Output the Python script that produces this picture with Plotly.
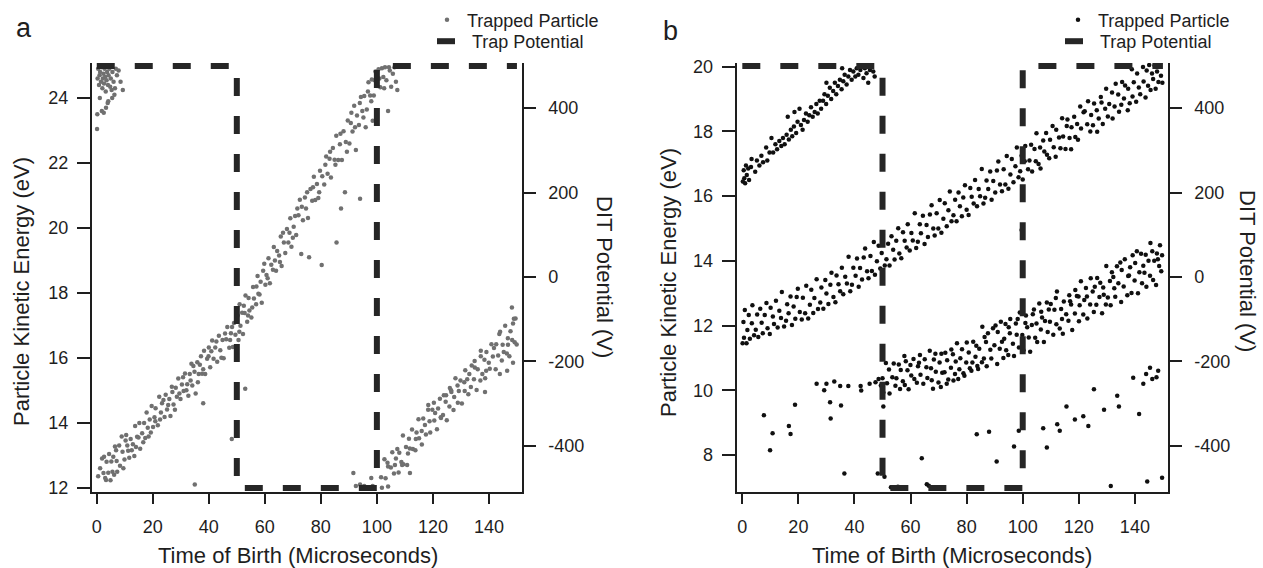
import plotly.graph_objects as go

# ---------------- data ----------------
# Panel a: trapped particles (time of birth [us], kinetic energy [eV])
A_TOP = [(0.3,24.6),(0.5,24.9),(0.8,24.4),(1.0,24.7),(1.2,24.8),(1.5,24.5),(1.7,24.95),(2.0,24.3),
         (2.2,24.6),(2.4,24.75),(2.6,24.45),(2.8,24.9),(3.0,24.65),(3.2,24.2),(3.5,24.55),(3.7,24.8),
         (4.0,24.4),(4.2,24.7),(4.5,24.9),(4.8,24.35),(5.0,24.6),(5.3,24.25),(5.6,24.8),(6.0,24.5),
         (6.3,24.1),(6.8,24.9),(7.2,24.7),(7.8,24.85),(8.5,24.5),(9.3,24.25),(1.1,24.0),(1.8,23.6),
         (2.5,23.55),(3.3,23.7),(4.1,23.9),(0.1,23.05),(0.2,23.5),(5.5,24.0),(6.5,24.3),(3.9,23.85)]
A_BAND1 = [(0.5,12.35),(1.9,12.9),(2.4,12.45),(2.6,12.95),(3.3,12.24),(3.5,12.8),(4.1,12.46),(4.4,13.04),
           (4.9,12.23),(5.2,12.81),(5.6,12.49),(6.2,12.4),(6.5,13.27),(7.1,12.82),(7.3,12.49),(8.0,13.3),
           (8.3,12.68),(8.9,13.58),(9.2,13.11),(9.9,12.87),(10.3,13.45),(10.5,13.62),(11.2,13.14),(11.6,12.92),
           (12.1,13.5),(12.9,13.34),(13.4,12.98),(13.7,13.9),(14.4,13.57),(15.2,13.99),(15.5,13.2),(16.2,13.68),
           (16.9,13.99),(17.3,13.53),(17.8,14.32),(18.5,13.58),(18.9,14.1),(19.6,14.52),(20.1,13.87),(20.6,14.17),
           (21.0,14.45),(21.8,13.92),(22.3,14.8),(22.9,14.32),(23.3,14.6),(24.2,14.18),(24.6,14.86),(25.1,14.41),
           (25.9,14.73),(26.3,14.21),(26.8,15.11),(27.4,14.56),(28.2,15.08),(28.6,14.8),(29.1,15.36),(29.9,14.73),
           (30.4,15.18),(31.0,14.98),(31.5,15.52),(32.3,15.19),(32.7,14.83),(33.2,15.5),(33.8,15.82),(34.1,15.15),
           (34.9,15.57),(35.3,14.9),(35.9,15.86),(36.4,15.5),(36.8,15.79),(37.6,15.51),(38.3,16.22),(38.7,15.5),
           (39.4,15.97),(40.0,16.32),(40.5,15.71),(41.2,16.53),(41.7,15.97),(42.3,16.32),(43.0,15.88),(43.6,16.68),
           (44.1,16.23),(44.9,16.55),(45.3,15.99),(46.2,16.57),(46.6,16.95),(47.3,16.31),(47.9,16.76),(48.6,16.33),
           (49.0,17.07),(49.5,16.71),
           (1.2,12.6),(3.0,12.3),(5.9,12.95),(6.9,13.15),(9.5,12.6),(10.9,13.3),(12.5,13.15),(14.0,13.25),
           (14.9,13.55),(16.6,13.4),(18.2,13.85),(19.3,13.7),(20.9,14.05),(22.6,14.1),(23.8,14.7),(25.5,14.55),
           (27.0,14.95),(27.9,14.4),(29.5,14.9),(30.8,15.4),(32.0,15.0),(33.5,15.3),(34.5,15.75),(36.1,15.25),
           (37.2,16.05),(38.0,15.65),(39.9,16.05),(40.9,16.2),(42.7,16.5),(44.5,16.0),(45.8,16.75),(47.6,16.55),
           (48.3,16.95)]
A_BAND2 = [(50.3,17.3),(50.6,16.55),(51.0,17.65),(51.3,16.99),(51.9,17.39),(52.2,16.73),(52.8,17.38),(53.1,17.92),
           (53.7,17.11),(54.2,17.84),(54.5,17.46),(55.2,17.24),(55.8,18.18),(56.1,17.83),(56.9,17.65),(57.4,18.52),
           (57.7,17.97),(58.5,18.34),(58.9,17.7),(59.4,18.68),(60.2,18.25),(60.6,18.55),(61.3,19.07),(61.8,18.3),
           (62.3,18.87),(62.9,18.71),(63.2,19.41),(64.0,18.68),(64.4,19.29),(65.1,19.15),(65.7,19.74),(66.0,18.83),
           (66.8,19.55),(67.3,19.23),(67.9,19.97),(68.4,19.55),(69.1,20.3),(69.5,19.42),(70.3,20.04),(70.8,20.37),
           (71.2,19.78),(72.0,20.39),(72.5,20.87),(73.0,19.2),(73.6,20.24),(74.3,20.94),(74.7,20.6),(75.4,20.31),
           (75.8,19.1),(76.3,21.2),(76.9,20.84),(77.5,21.58),(78.0,20.86),(78.6,21.35),(79.1,20.92),(79.7,21.76),
           (80.3,18.86),(80.5,21.59),(81.2,21.34),(81.9,22.2),(82.4,21.67),(83.1,22.13),(83.6,21.55),(84.3,22.46),
           (84.9,22.1),(85.6,19.55),(85.5,22.84),(86.2,22.09),(86.8,22.58),(87.2,20.6),(87.5,22.09),(88.1,22.98),
           (88.6,21.1),(88.9,22.65),(89.6,23.31),(90.2,22.6),(90.7,23.23),(91.3,22.97),(91.9,23.76),(92.5,22.4),
           (92.9,23.46),(93.6,23.17),(94.0,20.9),(94.3,24.03),(94.8,23.6),(95.5,24.06),(96.0,23.1),(96.4,23.65),
           (97.0,24.49),(97.6,24.08),(98.2,24.57),(98.5,23.3),(98.9,24.08),(99.5,24.82),(100.1,24.37),(100.6,24.89),
           (101.2,24.33),(101.8,24.92),(102.3,24.65),(102.9,24.95),(103.4,24.55),(104.0,23.6),(104.6,24.85),
           (105.1,24.35),(105.7,24.75),(106.3,24.95),(106.8,24.5),(107.3,24.25),
           (50.9,16.8),(52.5,17.6),(54.0,17.3),(55.5,17.55),(57.0,18.2),(58.1,17.95),(59.8,18.9),(61.0,18.45),
           (63.6,19.0),(65.4,18.95),(66.5,19.85),(68.8,19.85),(70.0,19.7),(71.6,20.6),(73.2,20.65),(75.1,21.1),
           (77.2,21.25),(79.4,21.1),(81.6,21.95),(83.3,22.35),(85.2,21.95),(87.0,22.9),(89.3,22.35),(90.9,23.55),
           (92.2,23.1),(93.9,23.85),(95.2,23.4),(96.8,24.2),(98.0,23.9),(99.2,24.55),(100.9,24.6),(102.6,24.3),
           (104.3,24.95)]
A_BAND3 = [(101.5,12.32),(101.8,12.0),(102.7,12.88),(103.1,12.29),(103.8,12.77),(104.0,12.04),(105.0,12.62),
           (105.5,13.09),(106.1,12.44),(106.45,12.7),(107.3,13.19),(107.75,12.47),(108.0,13.08),(108.75,12.79),
           (109.3,13.61),(109.45,12.72),(110.4,13.25),(110.8,12.7),(111.45,13.51),(111.75,13.21),(112.55,13.79),
           (112.85,13.19),(113.75,13.15),(114.15,13.7),(114.85,14.11),(115.05,13.52),(116.05,13.33),(116.55,14.13),
           (117.15,13.93),(117.5,13.64),(118.35,14.55),(118.8,14.05),(119.05,13.7),(119.8,14.4),(120.35,14.62),
           (120.5,14.07),(121.45,13.8),(121.85,14.44),(122.5,14.74),(122.8,14.17),(123.6,14.24),(123.9,14.85),
           (124.55,14.65),(124.95,14.08),(125.9,14.5),(126.05,15.07),(126.6,14.95),(127.35,14.39),(127.6,14.79),
           (128.05,15.37),(128.9,14.62),(129.25,14.98),(129.85,15.3),(130.35,14.59),(131.35,14.98),(131.55,15.62),
           (132.25,15.34),(132.65,14.88),(133.55,15.1),(133.85,15.76),(134.65,15.34),(134.95,15.7),(135.6,15.01),
           (136.0,15.65),(136.95,15.3),(137.1,16.22),(137.65,15.5),(138.4,15.94),(138.65,15.37),(139.1,16.18),
           (139.95,15.85),(140.3,15.66),(140.9,16.42),(141.4,16.04),(142.4,15.65),(142.6,16.42),(143.3,16.07),
           (143.7,16.73),(144.6,15.92),(144.9,16.4),(145.3,16.18),(145.8,16.99),(146.4,16.13),(146.75,16.6),
           (147.3,16.05),(147.7,16.82),(148.3,16.55),(148.6,17.06),(149.2,16.48),(149.5,17.21),(149.9,16.41),
           (104.0,12.65),(106.8,12.9),(109.0,12.7),(111.1,13.05),(113.9,13.5),(116.0,13.75),(118.3,14.4),
           (120.8,14.3),(122.9,14.15),(124.7,14.85),(126.5,15.0),(128.8,15.15),(131.2,15.25),(133.0,15.5),
           (134.9,15.9),(137.1,16.05),(139.0,15.6),(141.8,16.3),(144.0,16.8),(146.8,16.4),(148.9,17.2),
           (146.5,15.6),(148.6,15.85),(138.6,14.95),(143.9,15.5),(111.8,12.45),(148.2,17.55)]
A_MISC = [(35.0,12.1),(48.2,13.5),(38.0,14.6),(53.0,15.05),(91.6,12.45),(92.5,12.05),(94.0,12.1),
          (95.5,12.05),(98.0,12.3),(98.5,12.05)]

# Panel b
B_BAND1 = [(0.2,16.45),(0.5,16.8),(0.7,16.55),(1.0,16.4),(1.3,16.95),(1.6,16.65),(2.1,16.85),(2.4,16.5),
           (3.1,16.9),(3.3,17.15),(4.6,16.75),(5.2,17.1),(6.1,16.95),(6.8,17.25),(7.4,17.05),(8.5,17.5),
           (8.9,17.1),(9.7,17.35),(10.4,17.8),(11.0,17.35),(11.8,17.6),(12.4,17.45),(13.2,17.7),(13.9,17.55),
           (14.5,17.8),(15.1,17.6),(15.8,17.9),(16.2,18.45),(16.6,17.75),(17.3,18.05),(17.8,17.85),(18.4,18.15),
           (18.6,18.6),(19.2,17.95),(19.7,18.3),(20.4,18.7),(20.9,18.2),(21.5,18.05),(22.0,18.35),(22.7,18.55),
           (23.3,18.3),(23.9,18.5),(24.5,18.75),(25.1,18.45),(25.8,18.6),(26.4,18.85),(26.9,18.55),(27.6,18.95),
           (28.1,18.7),(28.8,18.95),(29.3,19.15),(29.9,18.85),(30.5,19.1),(31.2,19.35),(31.7,19.0),(32.4,19.25),
           (33.0,19.5),(33.5,19.15),(34.1,19.4),(34.8,19.6),(35.4,19.3),(36.0,19.55),(36.5,19.75),(37.2,19.45),
           (37.8,19.7),(38.4,19.9),(39.0,19.6),(39.6,19.85),(40.3,19.7),(40.8,19.95),(41.4,19.75),(42.1,19.9),
           (42.6,20.0),(43.2,19.65),(43.7,19.95),(44.3,19.8),(44.9,19.5),(45.5,19.9),(46.1,20.0),(46.7,19.85),
           (47.2,19.7),(30.0,19.5),(35.6,19.95)]
B_BAND2 = [(0.1,11.45),(0.4,12.11),(0.6,11.62),(0.9,12.48),(1.5,11.45),(1.8,11.86),(2.3,12.33),(2.7,11.59),
           (3.4,12.07),(3.6,12.63),(4.2,11.7),(4.8,11.87),(5.3,12.34),(5.7,11.65),(6.4,12.52),(6.9,12.09),
           (7.3,11.76),(8.0,12.33),(8.6,12.7),(9.0,11.92),(9.8,11.74),(10.1,12.55),(10.9,12.28),(11.3,12.05),
           (12.0,12.77),(12.6,11.94),(13.2,12.46),(13.8,12.23),(14.1,13.04),(14.9,11.97),(15.6,12.15),(16.0,12.66),
           (16.5,12.38),(17.2,12.9),(17.7,12.02),(18.3,12.59),(18.9,12.21),(19.4,12.88),(19.8,13.14),(20.5,12.42),
           (21.2,12.19),(21.6,12.86),(22.4,12.38),(22.8,13.23),(23.5,12.22),(24.1,12.64),(24.6,13.11),(25.3,12.39),
           (25.7,12.85),(26.5,13.43),(27.0,12.51),(27.8,12.71),(28.2,13.18),(28.9,12.52),(29.6,13.41),(30.0,12.99),
           (30.7,12.67),(31.4,13.26),(31.8,13.63),(32.5,12.88),(33.2,12.72),(33.6,13.55),(34.3,13.28),(34.9,13.06),
           (35.5,13.79),(36.0,12.97),(36.7,13.51),(37.3,13.3),(37.9,14.13),(38.5,13.06),(39.1,13.26),(39.6,13.79),
           (40.4,13.54),(40.9,14.07),(41.5,13.2),(42.0,13.78),(42.7,13.42),(43.3,14.1),(43.8,14.38),(44.5,13.68),
           (45.0,13.46),(45.7,14.15),(46.2,13.69),(46.9,14.58),(47.3,13.57),(48.0,13.99),(48.6,14.47),(49.2,13.76),
           (49.7,14.24),(50.1,14.81),(50.8,13.86),(51.4,14.05),(52.0,14.53),(52.5,13.86),(53.2,14.76),(53.8,14.34),
           (54.3,14.04),(54.9,14.62),(55.6,15.01),(56.0,14.23),(56.7,14.08),(57.3,14.88),(57.9,14.62),(58.6,14.41),
           (59.0,15.13),(59.7,14.32),(60.3,14.86),(60.8,14.63),(61.5,15.47),(62.0,14.4),(62.6,14.59),(63.3,15.13),
           (63.7,14.85),(64.4,15.39),(65.0,14.52),(65.7,15.11),(66.2,14.74),(66.9,15.43),(67.5,15.72),(68.1,15.0),
           (68.6,14.78),(69.3,15.47),(69.9,15.0),(70.4,15.88),(71.0,14.87),(71.7,15.3),(72.2,15.78),(72.9,15.07),
           (73.5,15.56),(74.0,16.14),(74.6,15.22),(75.3,15.41),(75.9,15.89),(76.4,15.22),(77.1,16.11),(77.6,15.69),
           (78.3,15.38),(78.8,15.96),(79.4,16.34),(80.0,15.58),(80.7,15.42),(81.3,16.25),(81.8,15.98),(82.5,15.77),
           (83.0,16.5),(83.7,15.69),(84.3,16.22),(84.8,16.0),(85.4,16.84),(86.0,15.77),(86.6,15.95),(87.1,16.48),
           (87.7,16.22),(88.4,16.76),(88.9,15.89),(89.5,16.47),(90.2,16.11),(90.8,16.79),(91.3,17.07),(91.9,16.36),
           (92.6,16.15),(93.2,16.83),(93.8,16.36),(94.3,17.24),(94.9,16.23),(95.6,16.67),(96.1,17.15),(96.7,16.43),
           (97.4,16.92),(97.9,17.5),(98.5,16.58),(99.1,16.77),(99.6,17.25),
           (100.0,16.51),(100.7,17.08),(100.9,17.55),(101.9,16.83),(102.4,17.1),(103.0,17.59),(103.35,16.76),
           (104.2,17.46),(104.65,17.08),(104.9,17.94),(105.65,16.99),(106.2,17.5),(106.35,16.85),(107.3,17.72),
           (107.7,17.38),(108.35,17.95),(108.65,17.28),(109.45,17.17),(109.75,17.74),(110.65,18.17),(111.05,17.51),
           (111.75,17.22),(111.95,18.05),(112.95,17.81),(113.45,17.48),(114.05,18.41),(114.4,17.84),(115.25,17.46),
           (115.7,18.17),(115.95,18.37),(116.7,17.8),(117.25,17.45),(117.4,18.13),(118.35,18.45),(118.75,17.83),
           (119.4,18.23),(119.7,17.74),(120.5,18.77),(120.8,18.09),(121.7,18.59),(122.1,18.62),(123.0,18.22),
           (123.3,18.93),(124.1,18.0),(124.4,18.51),(125.05,18.19),(125.45,18.86),(126.4,18.65),(126.55,17.99),
           (127.1,18.4),(127.85,19.06),(128.1,18.89),(128.55,18.23),(129.4,18.7),(129.75,19.32),(130.35,18.46),
           (130.85,18.85),(131.85,19.2),(132.05,18.4),(132.75,18.77),(133.15,19.47),(134.05,19.14),(134.35,18.61),
           (135.15,18.82),(135.45,19.53),(136.1,19.02),(136.5,19.42),(137.45,18.65),(137.6,19.32),(138.15,18.87),
           (138.9,19.92),(139.15,19.08),(139.6,19.52),(140.45,18.92),(140.8,19.79),(141.4,19.36),(141.9,19.15),
           (142.9,19.99),(143.1,19.54),(143.8,19.05),(144.2,19.88),(144.7,19.41),(145.1,20.05),(145.6,19.28),
           (146.1,19.79),(146.5,19.62),(147.0,20.04),(147.4,19.32),(147.9,19.85),(148.4,19.53),(148.8,20.05),
           (149.3,19.72),(149.8,19.5)]
B_BAND3 = [(47.5,10.25),(48.6,10.35),(49.4,10.15),
           (50.0,10.37),(50.3,9.93),(51.2,10.84),(51.6,10.22),(52.3,10.64),(52.5,9.9),(53.5,10.4),(54.0,10.83),
           (54.6,10.14),(54.95,10.37),(55.8,10.8),(56.25,10.04),(56.5,10.63),(57.25,10.28),(57.8,11.06),(57.95,10.16),
           (58.9,10.62),(59.3,10.03),(59.95,10.78),(60.25,10.46),(61.05,10.97),(61.35,10.35),(62.25,10.23),
           (62.65,10.74),(63.35,11.09),(63.55,10.48),(64.55,10.2),(65.05,10.96),(65.65,10.71),(66.0,10.38),
           (66.85,11.22),(67.3,10.68),(67.55,10.31),(68.3,10.95),(68.85,11.13),(69.0,10.57),(69.95,10.24),
           (70.35,10.86),(71.0,11.13),(71.3,10.54),(72.1,10.56),(72.4,11.16),(73.05,10.93),(73.45,10.33),
           (74.4,10.7),(74.55,11.26),(75.1,11.11),(75.85,10.5),(76.1,10.89),(76.55,11.45),(77.4,10.65),
           (77.75,10.99),(78.35,11.27),(78.85,10.53),(79.85,10.86),(80.05,11.48),(80.75,11.17),(81.15,10.68),
           (82.05,10.86),(82.35,11.5),(83.15,11.04),(83.45,11.38),(84.1,10.66),(84.5,11.28),(85.45,10.87),
           (85.6,11.96),(86.15,10.98),(86.9,11.49),(87.15,10.74),(87.6,11.76),(88.45,11.25),(88.8,10.98),
           (89.4,11.92),(89.9,11.39),(90.9,10.81),(91.1,11.8),(91.8,11.28),(92.2,12.12),(93.1,11.0),(93.4,11.59),
           (93.85,12.05),(94.1,11.24),(94.85,11.09),(95.4,11.76),(95.55,12.2),(96.5,11.44),(96.9,11.06),
           (97.55,12.06),(97.85,11.72),(98.65,11.32),(98.95,12.4),(99.85,11.71),(100.25,11.24),(100.95,12.08),
           (101.15,12.31),(102.15,11.63),(102.65,11.19),(103.25,12.02),(103.6,12.35),(104.45,11.62),(104.9,12.06),
           (105.15,11.49),(105.9,12.68),(106.45,11.88),(106.6,12.43),(107.55,11.49),(107.95,12.14),(108.6,12.71),
           (108.9,11.8),(109.7,12.12),(110.0,12.67),(110.9,11.72),(111.3,12.49),(112.0,12.04),(112.2,13.05),
           (113.2,11.91),(113.7,12.51),(114.3,11.75),(114.65,12.74),(115.5,12.35),(116.3,12.15),(116.6,12.94),
           (117.25,12.65),(117.65,11.86),(118.6,12.37),(118.75,13.1),(119.3,12.91),(120.05,12.13),(120.3,12.63),
           (120.75,13.37),(121.6,12.34),(121.95,12.79),(122.55,13.16),(123.05,12.22),(124.05,12.65),(124.25,13.46),
           (124.95,13.05),(125.35,12.42),(126.25,12.64),(126.55,13.47),(127.35,12.88),(127.65,13.32),(128.3,12.38),
           (128.7,13.18),(129.65,12.65),(129.8,13.84),(130.35,12.87),(131.1,13.38),(131.35,12.63),(131.8,13.65),
           (132.65,13.15),(133.0,12.89),(133.6,13.83),(134.1,13.31),(135.1,12.73),(135.3,13.72),(136.0,13.21),
           (136.4,14.05),(137.3,12.94),(137.6,13.53),(137.9,13.55),(138.8,13.01),(139.2,14.17),(139.9,13.39),
           (140.1,13.93),(141.1,13.0),(141.6,13.65),(142.2,14.22),(142.55,13.31),(143.4,13.63),(143.85,14.19),
           (144.1,13.2),(144.85,14.0),(145.4,13.54),(145.55,14.55),(146.5,13.41),(146.9,14.0),(147.55,13.25),
           (147.85,14.23),(148.65,13.84),(148.95,14.48),(149.4,13.68),(149.7,14.17),
           (58.3,10.9),(63.0,10.85),(68.0,10.05),(70.8,10.1),(72.9,10.2),(75.3,10.3),(77.0,10.35),(79.2,10.45),
           (81.7,10.6),(83.8,10.75),(86.4,11.65),(90.3,12.0),(92.6,11.5),(95.0,11.95),(98.2,12.2),(101.6,11.95),
           (104.0,12.5),(106.9,12.25),(109.3,12.5),(111.8,12.85),(114.0,12.2),(116.9,12.75),(119.9,12.9),
           (122.9,12.9),(125.7,13.2),(128.9,12.95),(132.3,13.5),(134.8,13.95),(138.3,13.8),(140.7,14.3),
           (143.0,13.85),(146.2,14.3),(148.2,14.05)]
B_SPARSE_X = [7.7,10.8,9.9,16.6,17.2,18.8,26.5,29.2,30.0,32.8,31.3,31.5,34.9,35.2,37.8,36.4,42.2,42.4,45.4,48.3,
              50.7,50.3,64.0,65.8,53.0,55.5,57.5,66.5,68.5,83.6,88.0,90.7,96.9,98.6,107.3,108.6,112.3,113.2,115.6,
              118.6,121.6,123.4,125.4,129.0,131.4,133.7,134.3,139.4,141.5,143.0,144.0,145.4,146.2,147.7,148.3,
              144.4,149.7,99.6]
B_SPARSE_Y = [9.23,8.67,8.15,8.9,8.65,9.55,10.2,10.0,10.2,10.27,9.63,9.13,10.13,9.53,10.13,7.43,10.13,9.99,10.2,7.43,
              7.33,9.5,7.9,7.1,7.0,7.02,7.0,7.05,7.0,8.64,8.72,7.8,8.26,8.75,8.83,8.23,8.95,8.75,9.5,
              9.1,9.2,8.9,10.03,9.4,7.04,9.83,9.5,10.39,9.27,10.2,10.5,10.7,10.35,10.4,10.6,
              7.18,7.3,14.95]

# Trap potential (DIT potential, V) vs time of birth
TRAP_T = [0, 50, 50, 100, 100, 150]
TRAP_V = [500, 500, -500, -500, 500, 500]

X_TICKS = [0, 20, 40, 60, 80, 100, 120, 140]
A_Y_TICKS = [12, 14, 16, 18, 20, 22, 24]
B_Y_TICKS = [8, 10, 12, 14, 16, 18, 20]
V_TICKS = [-400, -200, 0, 200, 400]
V_TICK_TEXT = ["-400", "-200", "0", "200", "400"]

assert len(B_SPARSE_X) == len(B_SPARSE_Y)


def unzip(*groups):
    xs, ys = [], []
    for g in groups:
        for x, y in g:
            xs.append(x)
            ys.append(y)
    return xs, ys


ax_, ay_ = unzip(A_TOP, A_BAND1, A_BAND2, A_BAND3, A_MISC)
bx_, by_ = unzip(B_BAND1, B_BAND2, B_BAND3)
bx_ += B_SPARSE_X
by_ += B_SPARSE_Y

# ---------------- figure ----------------
FONT = "Liberation Sans, Arial, Helvetica, sans-serif"
INK = "#1e1e1e"
W, H = 1263, 568
TRAP_LINE = dict(color="#262626", width=6, dash="18px,20px")

fig = go.Figure()
fig.add_trace(go.Scatter(x=ax_, y=ay_, mode="markers", name="Trapped Particle",
                         marker=dict(size=4.5, color="#707070"),
                         xaxis="x", yaxis="y", legend="legend"))
fig.add_trace(go.Scatter(x=TRAP_T, y=TRAP_V, mode="lines", name="Trap Potential",
                         line=TRAP_LINE, xaxis="x", yaxis="y2", legend="legend2"))
fig.add_trace(go.Scatter(x=bx_, y=by_, mode="markers", name="Trapped Particle",
                         marker=dict(size=4.5, color="#101010"),
                         xaxis="x2", yaxis="y3", legend="legend3"))
fig.add_trace(go.Scatter(x=TRAP_T, y=TRAP_V, mode="lines", name="Trap Potential",
                         line=TRAP_LINE, xaxis="x2", yaxis="y4", legend="legend4"))

dom_y = [1 - 491.7 / H, 1 - 63 / H]
dom_a = [92 / W, 521.7 / W]
dom_b = [736.7 / W, 1167.7 / W]

common = dict(showline=True, linewidth=2, linecolor=INK, ticks="outside", tickwidth=2,
              tickcolor=INK, showgrid=False, zeroline=False, automargin=False,
              tickfont=dict(family=FONT, size=18, color=INK))


def leg(px, py):
    return dict(x=px / W, y=1 - py / H, xanchor="left", yanchor="middle",
                bgcolor="rgba(0,0,0,0)", borderwidth=0,
                font=dict(family=FONT, size=18, color=INK), itemwidth=30)


fig.update_layout(
    width=W, height=H, margin=dict(l=0, r=0, t=0, b=0, autoexpand=False),
    paper_bgcolor="white", plot_bgcolor="white",
    font=dict(family=FONT, color=INK),
    xaxis=dict(domain=dom_a, range=[-1.7, 151.7], tickvals=X_TICKS, ticklen=10,
               ticklabelstandoff=8, anchor="y", **common),
    yaxis=dict(domain=dom_y, range=[11.877, 25.08], tickvals=A_Y_TICKS, ticklen=13,
               ticklabelstandoff=5, anchor="x", **common),
    yaxis2=dict(domain=dom_y, range=[-509, 507], tickvals=V_TICKS, ticktext=V_TICK_TEXT,
                ticklen=12, ticklabelstandoff=9, overlaying="y", side="right", anchor="x", **common),
    xaxis2=dict(domain=dom_b, range=[-2.0, 151.7], tickvals=X_TICKS, ticklen=10,
                ticklabelstandoff=8, anchor="y3", **common),
    yaxis3=dict(domain=dom_y, range=[6.866, 20.114], tickvals=B_Y_TICKS, ticklen=13,
                ticklabelstandoff=5, anchor="x2", **common),
    yaxis4=dict(domain=dom_y, range=[-509, 507], tickvals=V_TICKS, ticktext=V_TICK_TEXT,
                ticklen=12, ticklabelstandoff=9, overlaying="y3", side="right", anchor="x2", **common),
    legend=leg(427, 20),
    legend2=leg(432, 41.5),
    legend3=leg(1058, 20),
    legend4=leg(1060, 41.5),
    showlegend=True,
)

title_font = dict(family=FONT, size=22, color=INK)
ann = [
    dict(text="a", x=24 / W, y=1 - 28 / H, font=dict(family=FONT, size=27, color=INK)),
    dict(text="b", x=670 / W, y=1 - 31 / H, font=dict(family=FONT, size=27, color=INK)),
    dict(text="Particle Kinetic Energy (eV)", x=21 / W, y=1 - 292 / H, textangle=-90, font=title_font),
    dict(text="Particle Kinetic Energy (eV)", x=668 / W, y=1 - 282 / H, textangle=-90, font=title_font),
    dict(text="DIT Potential (V)", x=605 / W, y=1 - 277 / H, textangle=90, font=title_font),
    dict(text="DIT Potential (V)", x=1248 / W, y=1 - 271 / H, textangle=90, font=title_font),
    dict(text="Time of Birth (Microseconds)", x=297.5 / W, y=1 - 555 / H, font=title_font),
    dict(text="Time of Birth (Microseconds)", x=951.5 / W, y=1 - 555 / H, font=title_font),
]
for a in ann:
    a.update(xref="paper", yref="paper", xanchor="center", yanchor="middle", showarrow=False)
fig.update_layout(annotations=ann)

fig.write_html("out.html", config={"displayModeBar": False},
               post_script="document.body.style.margin='0px';")
